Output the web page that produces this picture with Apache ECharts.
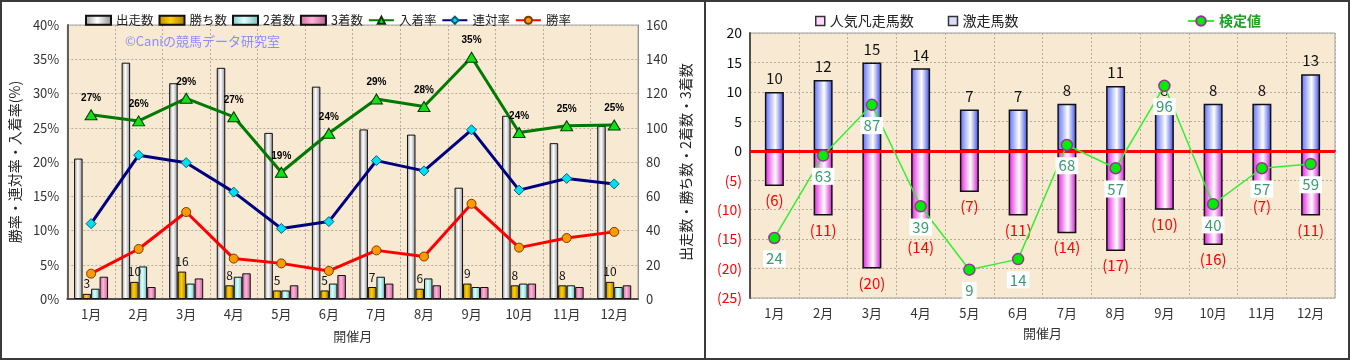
<!DOCTYPE html>
<html><head><meta charset="utf-8">
<script src="https://cdn.jsdelivr.net/npm/echarts@6/dist/echarts.min.js"></script>
<style>
html,body{margin:0;padding:0;background:#fff;width:1351px;height:360px;overflow:hidden;}
#c1{position:absolute;left:0;top:0;width:705px;height:360px;}
#c2{position:absolute;left:706px;top:0;width:645px;height:360px;}
#frame{position:absolute;left:0;top:0;width:1350px;height:360px;box-sizing:border-box;border:2px solid #3a3a3a;pointer-events:none;}
#div{position:absolute;left:704px;top:0;width:2px;height:360px;background:#3a3a3a;pointer-events:none;}
</style></head><body>
<div id="c1"></div><div id="c2"></div>
<div id="frame"></div><div id="div"></div>
<script>
// ---------- data (left chart) ----------
const months = ['1月','2月','3月','4月','5月','6月','7月','8月','9月','10月','11月','12月'];
const runners = [82,138,126,135,97,124,99,96,65,107,91,101];   // 出走数
const wins    = [3,10,16,8,5,5,7,6,9,8,8,10];                   // 勝ち数
const seconds = [6,19,9,13,5,9,13,12,7,9,8,7];                  // 2着数
const thirds  = [13,7,12,15,8,14,9,8,7,9,7,8];                  // 3着数
const placeRate  = [26.9,26.0,29.3,26.6,18.5,24.2,29.2,28.1,35.3,24.3,25.3,25.4]; // 入着率
const rentaiRate = [11.0,21.0,19.9,15.6,10.3,11.3,20.2,18.7,24.7,15.9,17.6,16.8]; // 連対率
const winRate    = [3.7,7.3,12.7,5.9,5.2,4.1,7.1,6.2,13.9,7.5,8.9,9.8];           // 勝率
// ---------- data (right chart) ----------
const gekisou = [10,12,15,14,7,7,8,11,8,8,8,13];                      // 激走馬数
const bonsou  = [-6,-11,-20,-14,-7,-11,-14,-17,-10,-16,-7,-11];       // 人気凡走馬数
const kentei  = [24,63,87,39,9,14,68,57,96,40,57,59];                 // 検定値

const FONT = '"Noto Sans CJK JP","Noto Sans",sans-serif';
function hGrad(stops){
  return {type:'linear',x:0,y:0,x2:1,y2:0,colorStops:stops.map(s=>({offset:s[0],color:s[1]}))};
}
const PLOT_BG = '#f7e9d2';
const GRID_LINE = {color:'#b5ad9c',type:[2,2],width:1};

// ================= LEFT CHART =================
const c1 = echarts.init(document.getElementById('c1'));
const barBase = {type:'bar', yAxisIndex:1, barWidth:8.5, barGap:'0%'};
c1.setOption({
  animation:false,
  textStyle:{fontFamily:FONT},
  legend:{
    left:80, top:9, itemGap:5, itemWidth:25, itemHeight:9,
    textStyle:{fontSize:12.5,color:'#222',fontFamily:FONT},
    data:[
      {name:'出走数',icon:'rect'},{name:'勝ち数',icon:'rect'},{name:'2着数',icon:'rect'},{name:'3着数',icon:'rect'},
      {name:'入着率'},{name:'連対率'},{name:'勝率'}
    ]
  },
  grid:{left:67, top:25, width:571, height:274, show:true, backgroundColor:PLOT_BG, borderColor:'#a8a8a8', borderWidth:1},
  graphic:[{type:'text', left:125, top:35, z:1, style:{text:'©Caniの競馬データ研究室', fill:'#8c8cff', font:'13px '+FONT}}],
  xAxis:{
    type:'category', data:months,
    axisLine:{lineStyle:{color:'#505050',width:2}}, axisTick:{show:false},
    axisLabel:{fontSize:13,color:'#333',margin:9},
    splitLine:{show:true,lineStyle:GRID_LINE},
    name:'開催月', nameLocation:'middle', nameGap:31, nameTextStyle:{fontSize:13,color:'#333'}
  },
  yAxis:[
    {type:'value',min:0,max:40,interval:5,
     axisLabel:{formatter:'{value}%',fontSize:13,color:'#333'},
     axisLine:{show:true,lineStyle:{color:'#606060',width:2}}, axisTick:{show:false},
     splitLine:{lineStyle:GRID_LINE},
     name:'勝率・連対率・入着率(%)', nameLocation:'middle', nameGap:36, nameRotate:90,
     nameTextStyle:{fontSize:14,color:'#222'}},
    {type:'value',min:0,max:160,interval:20, position:'right',
     axisLabel:{fontSize:13,color:'#333'},
     axisLine:{show:true,lineStyle:{color:'#909090',width:1}}, axisTick:{show:false},
     splitLine:{show:false},
     name:'出走数・勝ち数・2着数・3着数', nameLocation:'middle', nameGap:37, nameRotate:90,
     nameTextStyle:{fontSize:14,color:'#222'}}
  ],
  series:[
    Object.assign({name:'出走数', data:runners,
      itemStyle:{color:hGrad([[0,'#9a9a9a'],[0.45,'#ffffff'],[1,'#8c8c8c']]),borderColor:'#111',borderWidth:1}}, barBase),
    Object.assign({name:'勝ち数', data:wins,
      itemStyle:{color:hGrad([[0,'#c08a00'],[0.45,'#ffd000'],[1,'#a87800']]),borderColor:'#111',borderWidth:1},
      label:{show:true,position:'top',distance:4,fontSize:12,color:'#111'}}, barBase),
    Object.assign({name:'2着数', data:seconds,
      itemStyle:{color:hGrad([[0,'#80cccc'],[0.45,'#dcffff'],[1,'#70bcbc']]),borderColor:'#111',borderWidth:1}}, barBase),
    Object.assign({name:'3着数', data:thirds,
      itemStyle:{color:hGrad([[0,'#d06aa0'],[0.45,'#ffb4da'],[1,'#c05a90']]),borderColor:'#111',borderWidth:1}}, barBase),
    {name:'入着率', type:'line', yAxisIndex:0, data:placeRate, z:5,
     symbol:'triangle', symbolSize:[12,10],
     lineStyle:{color:'#007a00',width:3}, itemStyle:{color:'#14e014',borderColor:'#003a00',borderWidth:1},
     label:{show:true,position:'top',distance:6,formatter:p=>Math.round(p.value)+'%',
            fontSize:10,fontWeight:'bold',fontFamily:'Liberation Sans',color:'#000'}},
    {name:'連対率', type:'line', yAxisIndex:0, data:rentaiRate, z:5,
     symbol:'diamond', symbolSize:10,
     lineStyle:{color:'#000080',width:3}, itemStyle:{color:'#00e0f0',borderColor:'#00607a',borderWidth:1}},
    {name:'勝率', type:'line', yAxisIndex:0, data:winRate, z:5,
     symbol:'circle', symbolSize:9,
     lineStyle:{color:'#ff0000',width:3}, itemStyle:{color:'#ff9900',borderColor:'#7a3c00',borderWidth:1}}
  ]
});

// ================= RIGHT CHART =================
const c2 = echarts.init(document.getElementById('c2'));
c2.setOption({
  animation:false,
  textStyle:{fontFamily:FONT},
  legend:[
    {left:104, top:9, itemGap:34, itemWidth:9, itemHeight:9,
     textStyle:{fontSize:14,color:'#222',fontFamily:FONT},
     data:[{name:'人気凡走馬数',icon:'rect',itemStyle:{color:'#ffd8ff',borderColor:'#333',borderWidth:1.5}},
           {name:'激走馬数',icon:'rect',itemStyle:{color:'#d8dcff',borderColor:'#333',borderWidth:1.5}}]},
    {left:476, top:9, itemWidth:26, itemHeight:12,
     textStyle:{fontSize:14,color:'#22a022',fontWeight:'bold',fontFamily:FONT},
     data:['検定値']}
  ],
  grid:{left:44, top:33, width:585, height:265, show:true, backgroundColor:PLOT_BG, borderColor:'#a0a0a0', borderWidth:1},
  xAxis:{
    type:'category', data:months,
    axisLine:{lineStyle:{color:'#505050',width:2}}, axisTick:{show:false},
    axisLabel:{fontSize:13,color:'#333',margin:9},
    splitLine:{show:true,lineStyle:GRID_LINE},
    name:'開催月', nameLocation:'middle', nameGap:29, nameTextStyle:{fontSize:13,color:'#333'}
  },
  yAxis:[
    {type:'value',min:-25,max:20,interval:5,
     axisLabel:{fontSize:14,formatter:v=>v<0?'('+(-v)+')':String(v),color:v=>(v<0?'#ff0000':'#111')},
     axisLine:{show:true,lineStyle:{color:'#505050',width:2}}, axisTick:{show:false},
     splitLine:{lineStyle:GRID_LINE}},
    {type:'value',min:-4.4,max:121,show:false,splitLine:{show:false}}
  ],
  series:[
    {name:'激走馬数', type:'bar', data:gekisou, barWidth:19, barGap:'-100%',
     itemStyle:{color:hGrad([[0,'#5a6aff'],[0.55,'#ffffff'],[1,'#3444e4']]),borderColor:'#111',borderWidth:1.5},
     label:{show:true,position:'top',distance:6,fontSize:15,color:'#111'},
     markLine:{silent:true,symbol:'none',data:[{yAxis:0}],lineStyle:{color:'#ff0000',width:3,type:'solid'},label:{show:false},z:3}},
    {name:'人気凡走馬数', type:'bar', data:bonsou, barWidth:19, barGap:'-100%',
     itemStyle:{color:hGrad([[0,'#e01ce0'],[0.55,'#ffffff'],[1,'#d010d0']]),borderColor:'#111',borderWidth:1.5},
     label:{show:true,position:'bottom',distance:7,fontSize:15,color:'#ff0000',formatter:p=>'('+(-p.value)+')'}},
    {name:'検定値', type:'line', yAxisIndex:1, data:kentei, z:6,
     symbol:'circle', symbolSize:11,
     lineStyle:{color:'#33ee33',width:1.5}, itemStyle:{color:'#00ee00',borderColor:'#993399',borderWidth:1.5},
     label:{show:true,position:'bottom',distance:6,fontSize:15,color:'#3a9a70',backgroundColor:'#ffffff',padding:[1,3]}}
  ]
});
</script>
</body></html>
